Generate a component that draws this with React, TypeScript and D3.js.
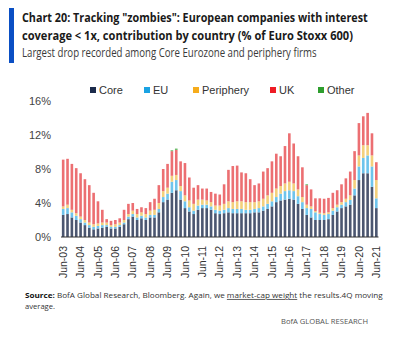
import React, { useLayoutEffect, useRef, useState } from "react";
import * as d3 from "d3";

const W = 402;
const H = 349;

// Quarterly categories Jun-03 .. Jun-21
const monthNames = ["Jun", "Sep", "Dec", "Mar"];
const quarters: string[] = [];
for (let i = 0; i < 73; i++) {
  const m = monthNames[i % 4];
  const yr = 3 + Math.floor((i + 2) / 4);
  quarters.push(`${m}-${String(yr).padStart(2, "0")}`);
}

const tickLabels = [
  "Jun-03", "Jun-04", "Jun-05", "Jun-06", "Jun-07", "Jun-08", "Jun-09", "Jun-10",
  "Jun-11", "Jun-12", "Jun-13", "Jun-14", "Jun-15", "Jun-16", "Jun-17", "Jun-18",
  "Jun-19", "Jun-20", "Jun-21",
];

const yTicks = [0, 4, 8, 12, 16];

const core = [
  2.6, 2.7, 2.3, 2.0, 1.7, 1.4, 1.1, 0.9, 1.0, 1.1, 1.2, 1.0, 1.0, 1.2, 1.5, 2.1,
  2.4, 2.0, 2.2, 2.0, 2.3, 2.3, 2.9, 4.1, 4.4, 5.2, 5.5, 4.4, 3.4, 3.0, 2.7, 3.2,
  3.4, 3.4, 3.2, 2.8, 2.7, 2.8, 2.9, 2.8, 2.8, 2.8, 2.8, 2.8, 2.9, 2.9, 3.1, 3.3,
  3.6, 4.1, 4.3, 4.4, 4.5, 4.4, 3.9, 3.3, 2.6, 2.3, 2.0, 2.0, 2.0, 2.1, 2.6, 3.0,
  3.4, 3.6, 3.8, 4.9, 6.7, 7.5, 7.5, 5.9, 3.4,
];
const eu = [
  0.7, 0.7, 0.6, 0.5, 0.4, 0.3, 0.3, 0.3, 0.3, 0.3, 0.2, 0.2, 0.2, 0.2, 0.2, 0.3,
  0.3, 0.3, 0.3, 0.3, 0.3, 0.3, 0.4, 0.6, 0.7, 1.3, 1.2, 1.0, 0.8, 0.5, 0.4, 0.5,
  0.4, 0.4, 0.4, 0.4, 0.4, 0.4, 0.5, 0.5, 0.5, 0.5, 0.4, 0.4, 0.4, 0.5, 0.5, 0.6,
  0.6, 0.6, 0.8, 1.0, 1.0, 1.0, 0.9, 0.8, 0.8, 1.0, 0.9, 0.7, 0.6, 0.6, 0.5, 0.5,
  0.4, 0.5, 0.55, 0.8, 1.6, 1.8, 2.1, 2.4, 1.15,
];
const periphery = [
  0.3, 0.4, 0.3, 0.3, 0.3, 0.3, 0.3, 0.3, 0.3, 0.3, 0.3, 0.2, 0.3, 0.3, 0.3, 0.3,
  0.4, 0.4, 0.4, 0.4, 0.5, 0.6, 0.7, 0.7, 0.7, 0.7, 0.6, 0.6, 0.7, 0.8, 0.8, 0.7,
  0.6, 0.5, 0.5, 0.5, 0.6, 0.7, 0.8, 0.8, 0.9, 0.9, 0.9, 0.9, 0.8, 0.8, 0.9, 1.0,
  1.0, 1.0, 0.9, 0.9, 1.0, 0.9, 0.8, 0.6, 0.4, 0.3, 0.15, 0.15, 0.2, 0.2, 0.3, 0.3,
  0.3, 0.4, 0.55, 1.0, 1.3, 1.5, 1.2, 1.3, 2.15,
];
const uk = [
  5.5, 5.4, 5.4, 5.3, 5.1, 4.8, 4.4, 3.7, 2.6, 1.5, 0.4, 0.5, 0.5, 0.5, 1.2, 1.2,
  0.9, 0.6, 0.6, 0.7, 1.0, 1.3, 2.1, 2.6, 2.8, 2.9, 2.95, 2.9, 3.8, 2.7, 1.9, 1.7,
  1.3, 1.4, 1.2, 1.4, 1.3, 2.3, 3.7, 4.25, 4.2, 3.4, 3.4, 2.7, 2.0, 2.1, 3.2, 3.2,
  3.7, 4.1, 3.5, 4.4, 5.7, 4.7, 3.9, 3.5, 2.3, 2.0, 1.5, 1.7, 1.7, 1.7, 1.8, 1.7,
  2.1, 2.4, 2.8, 3.4, 3.8, 3.4, 3.8, 2.6, 2.1,
];
const other = [
  0, 0, 0, 0, 0, 0, 0, 0, 0, 0, 0, 0, 0, 0, 0, 0,
  0, 0, 0, 0, 0, 0, 0, 0, 0, 0.1, 0.15, 0, 0, 0, 0, 0,
  0, 0, 0, 0, 0, 0, 0, 0, 0, 0, 0, 0, 0, 0, 0, 0,
  0, 0, 0, 0, 0, 0, 0, 0, 0.1, 0, 0, 0, 0, 0, 0, 0,
  0, 0, 0, 0, 0, 0, 0, 0, 0,
];

const seriesKeys = ["Core", "EU", "Periphery", "UK", "Other"];
const barColors: Record<string, string> = {
  Core: "#4b5670",
  EU: "#6ec4ec",
  Periphery: "#f3d07c",
  UK: "#ec6f72",
  Other: "#5cb85c",
};
const legendColors: Record<string, string> = {
  Core: "#1b2b4b",
  EU: "#1aa3e3",
  Periphery: "#f6ac1c",
  UK: "#ee1c25",
  Other: "#2e9e2e",
};

function FitText(props: {
  x: number;
  y: number;
  width: number;
  fontSize: number;
  fontWeight?: string;
  fill: string;
  fontFamily: string;
  children: React.ReactNode;
}) {
  const ref = useRef<SVGTextElement>(null);
  const [sx, setSx] = useState(1);
  useLayoutEffect(() => {
    if (ref.current) {
      const w = ref.current.getComputedTextLength();
      if (w > 0) setSx(props.width / w);
    }
  }, [props.width]);
  return (
    <text
      ref={ref}
      transform={`translate(${props.x},${props.y}) scale(${sx},1)`}
      fontFamily={props.fontFamily}
      fontSize={props.fontSize}
      fontWeight={props.fontWeight}
      fill={props.fill}
    >
      {props.children}
    </text>
  );
}

export default function App() {
  const rows = quarters.map((q, i) => ({
    q,
    Core: core[i],
    EU: eu[i],
    Periphery: periphery[i],
    UK: uk[i],
    Other: other[i],
  }));
  const stacked = d3.stack<any>().keys(seriesKeys)(rows);

  const x = d3.scaleBand<string>().domain(quarters).range([61, 378.5]).paddingInner(0.4).paddingOuter(0.2);
  const y = d3.scaleLinear().domain([0, 16]).range([237, 101]);

  const font = "'Liberation Sans', Arial, sans-serif";
  const titleFont = "'Open Sans', 'Noto Sans', sans-serif";
  const legendItems = [
    { k: "Core", x: 90 },
    { k: "EU", x: 144 },
    { k: "Periphery", x: 193 },
    { k: "UK", x: 270 },
    { k: "Other", x: 318 },
  ];

  return (
    <svg
      width={W}
      height={H}
      style={{ position: "absolute", left: 0, top: 0, background: "#fff" }}
    >
      <rect x={0} y={0} width={W} height={H} fill="#fff" />
      <rect x={9} y={8} width={5} height={55} fill="#0a4fc4" />
      <FitText x={22} y={22} width={346} fontFamily={titleFont} fontWeight="bold" fontSize={13} fill="#1a1a1a">
        Chart 20: Tracking "zombies": European companies with interest
      </FitText>
      <FitText x={22} y={40} width={331} fontFamily={titleFont} fontWeight="bold" fontSize={13} fill="#1a1a1a">
        coverage &lt; 1x, contribution by country (% of Euro Stoxx 600)
      </FitText>
      <FitText x={22} y={56.5} width={295} fontFamily={titleFont} fontSize={12} fill="#3a3a3a">
        Largest drop recorded among Core Eurozone and periphery firms
      </FitText>

      {legendItems.map((l) => (
        <g key={l.k}>
          <rect x={l.x} y={87} width={6} height={6} fill={legendColors[l.k]} />
          <text x={l.x + 9} y={93.5} fontFamily={font} fontSize={11} fill="#333">
            {l.k}
          </text>
        </g>
      ))}

      {yTicks.map((t) => (
        <text key={t} x={51} y={y(t)} dy="0.35em" textAnchor="end" fontFamily={font} fontSize={11} fill="#444">
          {t}%
        </text>
      ))}

      {stacked.map((s) => (
        <g key={s.key} fill={barColors[s.key]}>
          {s.map((d, i) => {
            const h = y(d[0]) - y(d[1]);
            if (h <= 0) return null;
            return (
              <rect
                key={i}
                x={x(quarters[i])}
                y={y(d[1])}
                width={x.bandwidth()}
                height={h}
              />
            );
          })}
        </g>
      ))}

      <line x1={61} x2={378.5} y1={y(0)} y2={y(0)} stroke="#333" strokeWidth={1.2} />

      {tickLabels.map((t) => {
        const cx = (x(t) as number) + x.bandwidth() / 2;
        return (
          <text
            key={t}
            transform={`translate(${cx},246) rotate(-90)`}
            textAnchor="end"
            dy="0.35em"
            fontFamily={font}
            fontSize={10.5}
            fill="#333"
          >
            {t}
          </text>
        );
      })}

      <FitText x={25} y={298} width={358} fontFamily="'Open Sans', sans-serif" fontSize={7.6} fill="#333">
        <tspan fontWeight="bold" fill="#111">Source:</tspan>
        <tspan> BofA Global Research, Bloomberg. Again, we </tspan>
        <tspan style={{ textDecoration: "underline" }}>market-cap weight</tspan>
        <tspan> the results.4Q moving</tspan>
      </FitText>
      <text x={25} y={309} fontFamily="'Open Sans', sans-serif" fontSize={7.6} fill="#333">
        average.
      </text>
      <text x={368} y={324} textAnchor="end" fontFamily="'Open Sans', sans-serif" fontSize={7.6} fill="#555">
        BofA GLOBAL RESEARCH
      </text>
    </svg>
  );
}
